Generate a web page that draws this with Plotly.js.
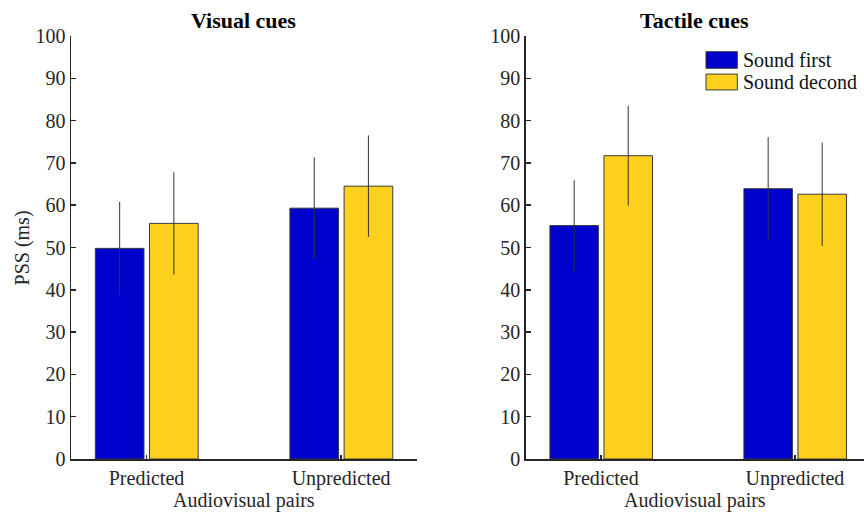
<!DOCTYPE html>
<html>
<head>
<meta charset="utf-8">
<script src="https://cdn.plot.ly/plotly-3.0.1.min.js"></script>
<style>html,body{margin:0;padding:0;background:#fff;}#chart{width:864px;height:513px;}</style>
</head>
<body>
<div id="chart"></div>
<script>
var categories = ["Predicted", "Unpredicted"];
var seriesNames = ["Sound first", "Sound decond"];
var panelTitles = ["Visual cues", "Tactile cues"];
var visualFirst = [49.8, 59.3];
var visualFirstErr = [11.0, 12.0];
var visualSecond = [55.7, 64.5];
var visualSecondErr = [12.1, 12.0];
var tactileFirst = [55.2, 63.9];
var tactileFirstErr = [10.7, 12.2];
var tactileSecond = [71.7, 62.6];
var tactileSecondErr = [11.8, 12.2];
var yTicks = [0,10,20,30,40,50,60,70,80,90,100];

var colors = ["#0000CC", "#FCD01C"];
var edge = "#3a3a3a";
var axc = "#262626";
var fontFam = "Liberation Serif, Times New Roman, serif";

function barTrace(y, err, i, xa, ya) {
  return {
    type: "bar", x: categories, y: y, name: seriesNames[i],
    xaxis: xa, yaxis: ya, showlegend: false,
    width: 0.25, offset: i === 0 ? -0.263 : 0.0155,
    marker: {color: colors[i], line: {color: edge, width: 1}},
    error_y: {type: "data", array: err, visible: true, color: "#333", thickness: 1, width: 0},
    hoverinfo: "skip"
  };
}

var data = [
  barTrace(visualFirst, visualFirstErr, 0, "x", "y"),
  barTrace(visualSecond, visualSecondErr, 1, "x", "y"),
  barTrace(tactileFirst, tactileFirstErr, 0, "x2", "y2"),
  barTrace(tactileSecond, tactileSecondErr, 1, "x2", "y2")
];

function xAxis(domain, range, anchor) {
  return {
    domain: domain, range: range, anchor: anchor, type: "category",
    showline: true, linecolor: axc, linewidth: 1.5, mirror: false,
    ticks: "inside", ticklen: 4, tickwidth: 1.5, tickcolor: axc,
    showgrid: false, zeroline: false, fixedrange: true,
    tickfont: {family: fontFam, size: 20, color: axc}
  };
}
function yAxis(anchor) {
  return {
    range: [0, 100], anchor: anchor, tickvals: yTicks, domain: [0, 1],
    showline: true, linecolor: axc, linewidth: 1.5,
    ticks: "inside", ticklen: 5, tickwidth: 1.5, tickcolor: axc,
    showgrid: false, zeroline: false, fixedrange: true,
    tickfont: {family: fontFam, size: 20, color: axc}
  };
}

var shapes = [], annotations = [];
var legX0 = 0.8171, legX1 = 0.8534;
var legY = [[0.9237, 0.963], [0.8725, 0.910]];
for (var i = 0; i < 2; i++) {
  shapes.push({type: "rect", xref: "paper", yref: "paper", x0: legX0, x1: legX1,
    y0: legY[i][0], y1: legY[i][1], fillcolor: colors[i], line: {color: edge, width: 1}});
  annotations.push({xref: "paper", yref: "paper", x: 0.8575, y: (legY[i][0] + legY[i][1]) / 2,
    xanchor: "left", yanchor: "middle", showarrow: false, text: seriesNames[i],
    font: {family: fontFam, size: 20, color: "#111"}});
}
var centers = [0.2824, 0.8042];
for (var p = 0; p < 2; p++) {
  annotations.push({xref: "paper", yref: "paper", x: centers[p], y: 1.037, xanchor: "center", yanchor: "middle",
    showarrow: false, text: "<b>" + panelTitles[p] + "</b>", font: {family: fontFam, size: 22, color: "#000"}});
  annotations.push({xref: "paper", yref: "paper", x: centers[p], y: -0.097, xanchor: "center", yanchor: "middle",
    showarrow: false, text: "Audiovisual pairs", font: {family: fontFam, size: 20, color: axc}});
}
annotations.push({xref: "paper", yref: "paper", x: 0.0266, y: 0.5, xanchor: "center", yanchor: "middle",
  showarrow: false, textangle: -90, text: "PSS (ms)", font: {family: fontFam, size: 20, color: axc}});

var layout = {
  width: 864, height: 513,
  margin: {l: 0, r: 0, t: 36, b: 54, pad: 0},
  paper_bgcolor: "#fff", plot_bgcolor: "#fff",
  barmode: "overlay",
  showlegend: false,
  xaxis: xAxis([0.0822, 0.4826], [-0.388, 1.39], "y"),
  yaxis: yAxis("x"),
  xaxis2: xAxis([0.6084, 1], [-0.388, 1.356], "y2"),
  yaxis2: yAxis("x2"),
  shapes: shapes,
  annotations: annotations,
  font: {family: fontFam}
};

Plotly.newPlot("chart", data, layout, {displayModeBar: false, staticPlot: true});
</script>
</body>
</html>
